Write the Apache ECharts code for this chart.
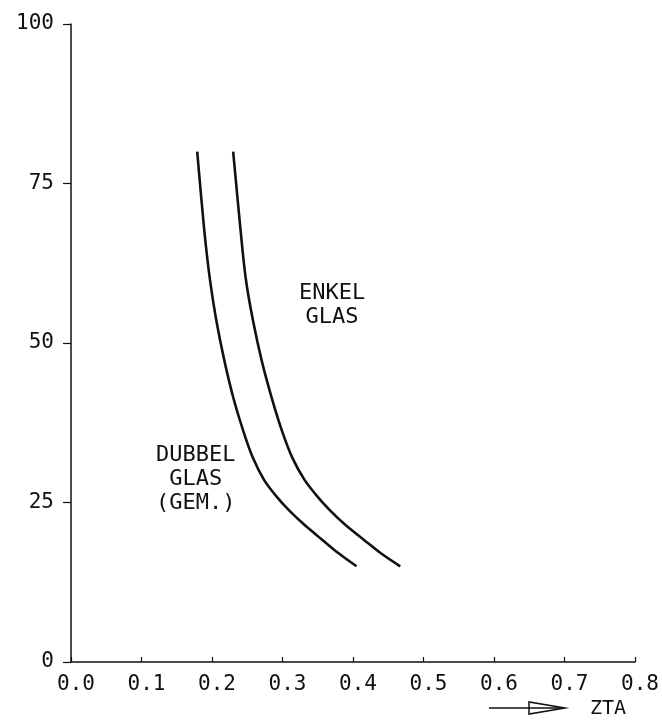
<!DOCTYPE html>
<html>
<head>
<meta charset="utf-8">
<script src="https://cdn.jsdelivr.net/npm/echarts@6/dist/echarts.min.js"></script>
<style>
html,body{margin:0;padding:0;background:#fff;}
#chart{width:662px;height:720px;}
</style>
</head>
<body>
<div id="chart"></div>
<script>
// Data
var dubbelX = [0.179, 0.189, 0.197, 0.206, 0.218, 0.231, 0.245, 0.258, 0.274, 0.291, 0.309, 0.331, 0.357, 0.380, 0.405];
var dubbelY = [80, 67.7, 60, 53.6, 47, 41.1, 36, 32, 28.5, 26, 23.8, 21.5, 19.1, 17, 15];
var enkelX  = [0.230, 0.2405, 0.248, 0.258, 0.271, 0.2855, 0.300, 0.314, 0.3315, 0.349, 0.367, 0.389, 0.416, 0.440, 0.467];
var enkelY  = [80, 67.7, 60, 53.6, 47, 41.1, 36, 32, 28.5, 26, 23.8, 21.5, 19.1, 17, 15];
var xTicks = [0, 0.8, 0.1];   // min, max, interval
var yTicks = [0, 100, 25];
var enkelLabel = "ENKEL\nGLAS";
var dubbelLabel = "DUBBEL\nGLAS\n(GEM.)";
var axisName = "ZTA";

function pairs(xs, ys){ return xs.map(function(x,i){ return [x, ys[i]]; }); }

var FONT = "DejaVu Sans Mono";
var chart = echarts.init(document.getElementById('chart'));
chart.setOption({
  backgroundColor: '#fff',
  animation: false,
  grid: {left: 71, right: 10, top: 24, bottom: 58},
  xAxis: {
    type: 'value', min: xTicks[0], max: xTicks[1], interval: xTicks[2],
    splitLine: {show: false},
    axisLine: {lineStyle: {color: '#111', width: 1.5}},
    axisTick: {inside: true, length: 5, lineStyle: {color: '#111', width: 1.2}},
    axisLabel: {
      color: '#111', fontFamily: FONT, fontSize: 21, margin: 12,
      padding: [0, 0, 0, 10],
      formatter: function(v){ return v.toFixed(1); }
    }
  },
  yAxis: {
    type: 'value', min: yTicks[0], max: yTicks[1], interval: yTicks[2],
    splitLine: {show: false},
    axisLine: {lineStyle: {color: '#111', width: 1.5}},
    axisTick: {inside: false, length: 8, lineStyle: {color: '#111', width: 1.2}},
    axisLabel: {color: '#111', fontFamily: FONT, fontSize: 21, margin: 17}
  },
  series: [
    {type: 'line', name: 'DUBBEL GLAS', data: pairs(dubbelX, dubbelY), smooth: 0.3,
     showSymbol: false, lineStyle: {color: '#111', width: 2.6}},
    {type: 'line', name: 'ENKEL GLAS', data: pairs(enkelX, enkelY), smooth: 0.3,
     showSymbol: false, lineStyle: {color: '#111', width: 2.6}}
  ],
  graphic: [
    {type: 'text', left: 299, top: 281,
     style: {text: enkelLabel, font: '22px "' + FONT + '"', fill: '#111', textAlign: 'center', lineHeight: 24}},
    {type: 'text', left: 156, top: 443,
     style: {text: dubbelLabel, font: '22px "' + FONT + '"', fill: '#111', textAlign: 'center', lineHeight: 24}},
    {type: 'line', shape: {x1: 489, y1: 708, x2: 562, y2: 708}, style: {stroke: '#111', lineWidth: 1.5}},
    {type: 'polygon', shape: {points: [[529, 702], [529, 714], [565, 708]]}, style: {fill: 'none', stroke: '#111', lineWidth: 1.5}},
    {type: 'text', left: 590, top: 699,
     style: {text: axisName, font: '20px "' + FONT + '"', fill: '#111'}}
  ]
});
</script>
</body>
</html>
